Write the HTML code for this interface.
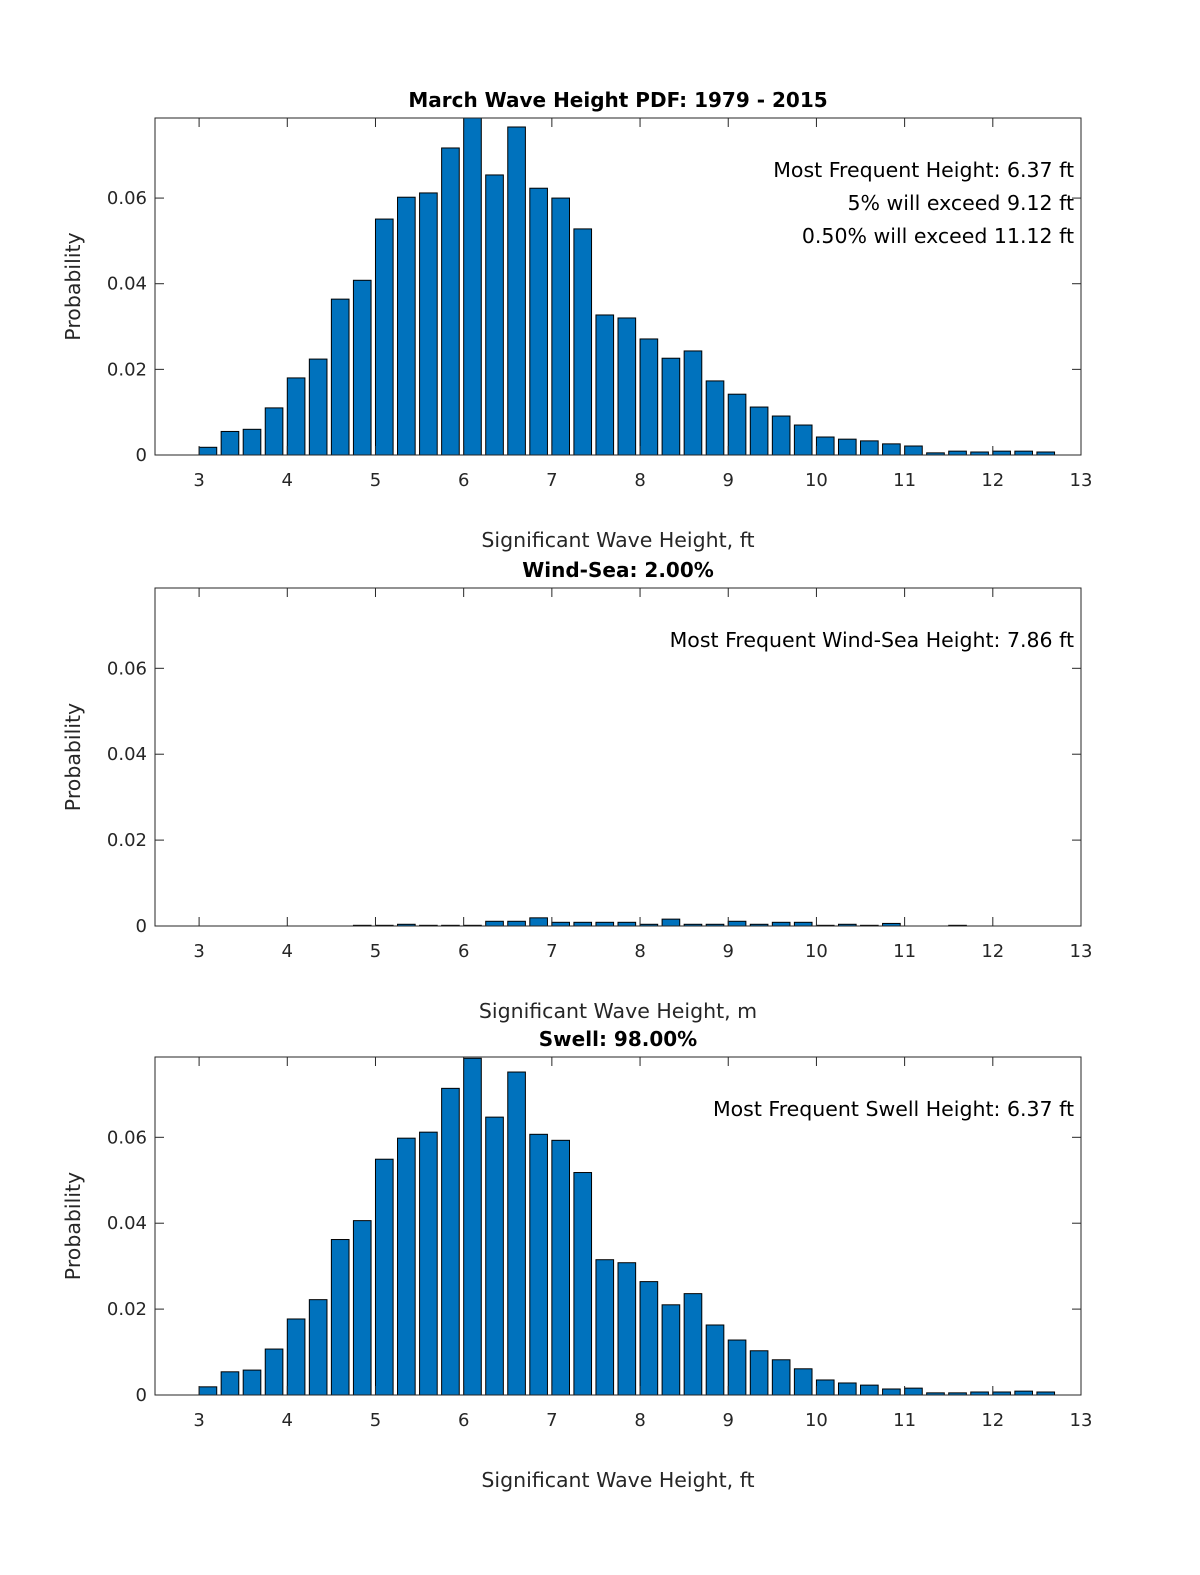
<!DOCTYPE html>
<html><head><meta charset="utf-8"><style>html,body{margin:0;padding:0;background:#fff;overflow:hidden;width:1200px;height:1575px}svg{display:block;font-family:"DejaVu Sans","Liberation Sans",sans-serif}</style></head>
<body>
<svg id="fig" width="1200" height="1575" viewBox="0 0 1200 1575"></svg>
<script>
const centers=[3.1,3.35,3.6,3.85,4.1,4.35,4.6,4.85,5.1,5.35,5.6,5.85,6.1,6.35,6.6,6.85,7.1,7.35,7.6,7.85,8.1,8.35,8.6,8.85,9.1,9.35,9.6,9.85,10.1,10.35,10.6,10.85,11.1,11.35,11.6,11.85,12.1,12.35,12.6];
const totalVals=[0.0018,0.0055,0.006,0.011,0.018,0.0224,0.0364,0.0408,0.0551,0.0602,0.0612,0.0717,0.079,0.0654,0.0766,0.0623,0.06,0.0528,0.0327,0.032,0.0271,0.0226,0.0243,0.0173,0.0142,0.0112,0.0091,0.007,0.0042,0.0037,0.0033,0.0026,0.0021,0.0005,0.0009,0.0007,0.0009,0.0009,0.0007];
const windVals=[0,0,0,0,0,0,0,0.00016,0.00016,0.0004,0.00016,0.00016,0.00016,0.0011,0.0011,0.0019,0.00086,0.00086,0.00086,0.00086,0.0004,0.0016,0.0004,0.0004,0.0011,0.0004,0.00086,0.00086,0.00016,0.0004,0.00016,0.0006,0,0,0.00016,0,0,0,0];
const swellVals=[0.0019,0.0054,0.0058,0.0107,0.0177,0.0222,0.0362,0.0406,0.0549,0.0598,0.0612,0.0714,0.0784,0.0647,0.0752,0.0607,0.0593,0.0518,0.0315,0.0308,0.0264,0.021,0.0236,0.0163,0.0128,0.0103,0.0082,0.0061,0.0035,0.0028,0.0023,0.0014,0.0016,0.0005,0.0005,0.0007,0.0007,0.0009,0.0007];
const xTicks=[3,4,5,6,7,8,9,10,11,12,13];
const yTicks=[0,0.02,0.04,0.06];
const yTickLabels=["0","0.02","0.04","0.06"];
const svg=document.getElementById('fig');
const NS='http://www.w3.org/2000/svg';
function mk(tag,attrs,parent){const e=document.createElementNS(NS,tag);for(const k in attrs)e.setAttribute(k,attrs[k]);(parent||svg).appendChild(e);return e;}
const L=155,R=1081,XMIN=2.5,XMAX=13,YMAX=0.0787;
function panel(id,top,bottom,vals,title,notes,xlabel){
  const g=mk('g',{});
  
  
  const sx=v=>L+(v-XMIN)/(XMAX-XMIN)*(R-L);
  const sy=v=>bottom-v/YMAX*(bottom-top);
  const bw=0.2*(R-L)/(XMAX-XMIN);
  vals.forEach((v,i)=>{
    if(v<=0)return;
    const y=Math.max(sy(v),top);
    const r=mk('rect',{x:sx(centers[i])-bw/2,y:y,width:bw,height:bottom-y,fill:'#0072bd',stroke:'#000','stroke-width':1},g);
    
    
  });
  const ax=mk('rect',{x:L,y:top,width:R-L,height:bottom-top,fill:'none',stroke:'#262626','stroke-width':1},g);
  
  
  xTicks.forEach(t=>{
    const x=sx(t);
    mk('line',{x1:x,x2:x,y1:bottom,y2:bottom-9,stroke:'#262626'},g);
    mk('line',{x1:x,x2:x,y1:top,y2:top+9,stroke:'#262626'},g);
    const tx=mk('text',{x:x,y:bottom+31,'text-anchor':'middle','font-size':18,fill:'#262626'},g);
    tx.textContent=t;
    
    
  });
  yTicks.forEach((t,i)=>{
    const y=sy(t);
    mk('line',{x1:L,x2:L+9,y1:y,y2:y,stroke:'#262626'},g);
    mk('line',{x1:R,x2:R-9,y1:y,y2:y,stroke:'#262626'},g);
    const tx=mk('text',{x:L-8,y:y+6,'text-anchor':'end','font-size':18,fill:'#262626'},g);
    tx.textContent=yTickLabels[i];
    
    
  });
  const tt=mk('text',{x:618,y:top-11,'text-anchor':'middle','font-size':20,'font-weight':'bold',fill:'#000'},g);
  tt.textContent=title;
  
  
  notes.forEach((n,i)=>{
    const nt=mk('text',{x:1074,y:top+59+i*33,'text-anchor':'end','font-size':20.5,fill:'#000'},g);
    nt.textContent=n;
    
    
  });
  const xl=mk('text',{x:618,y:bottom+92,'text-anchor':'middle','font-size':20.5,fill:'#262626'},g);
  xl.textContent=xlabel;
  
  
  const cy=(top+bottom)/2;
  const yl=mk('text',{x:80,y:cy,'text-anchor':'middle','font-size':20.5,fill:'#262626',transform:'rotate(-90 80 '+cy+')'},g);
  yl.textContent='Probability';
  
  
}
panel('total',118,455,totalVals,'March Wave Height PDF: 1979 - 2015',['Most Frequent Height: 6.37 ft','5% will exceed 9.12 ft','0.50% will exceed 11.12 ft'],'Significant Wave Height, ft');
panel('wind-sea',588,926,windVals,'Wind-Sea: 2.00%',['Most Frequent Wind-Sea Height: 7.86 ft'],'Significant Wave Height, m');
panel('swell',1057,1395,swellVals,'Swell: 98.00%',['Most Frequent Swell Height: 6.37 ft'],'Significant Wave Height, ft');
</script>
</body></html>
